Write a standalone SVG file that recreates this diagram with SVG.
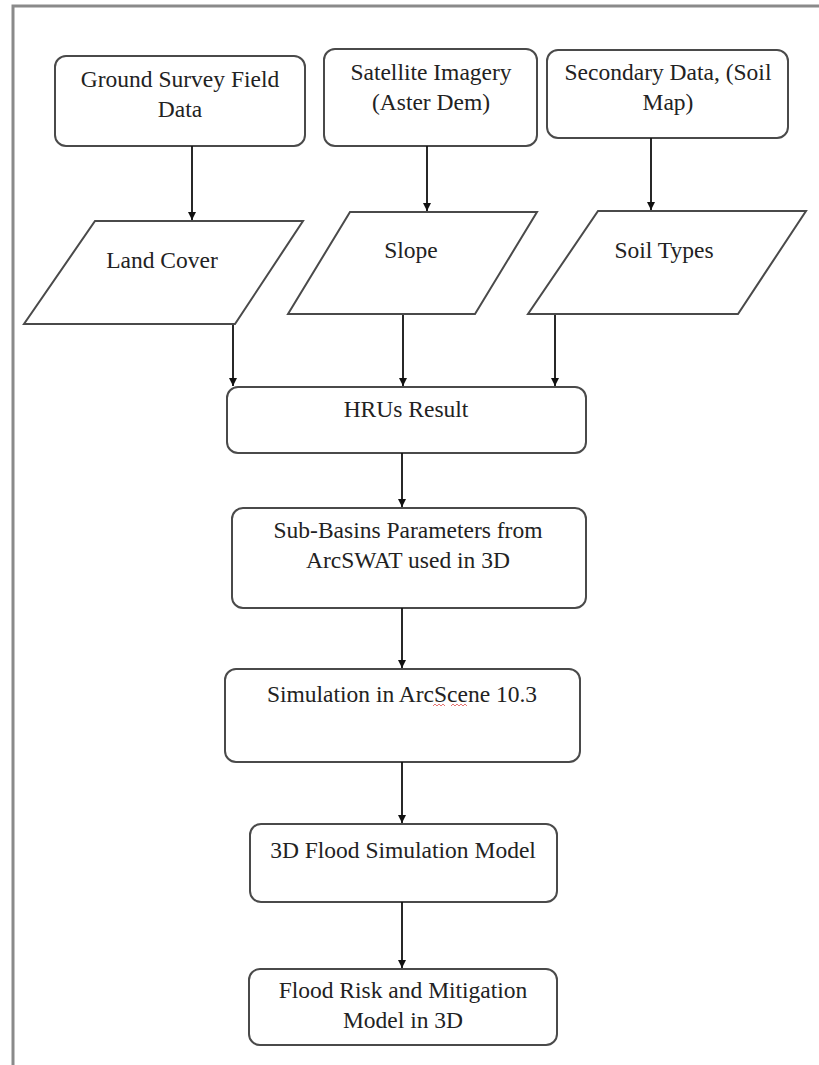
<svg xmlns="http://www.w3.org/2000/svg" width="819" height="1065" viewBox="0 0 819 1065">
<defs>
<marker id="ah" markerWidth="10" markerHeight="10" refX="8" refY="4" orient="auto" markerUnits="userSpaceOnUse">
<path d="M0,0 L8,4 L0,8 Z" fill="#111"/>
</marker>
<style>
.box{fill:#fff;stroke:#4a4a4a;stroke-width:2}
.t{font-family:"Liberation Serif","Times New Roman",serif;font-size:23.5px;fill:#222;text-anchor:middle}
.c{stroke:#111;stroke-width:1.8;fill:none;marker-end:url(#ah)}
.frame{stroke:#8a8a8a;stroke-width:3;fill:none}
</style>
</defs>
<rect width="819" height="1065" fill="#fff"/>
<path class="frame" d="M13,1065 L13,6 L819,6"/>
<g id="n-ground">
<rect class="box" x="55" y="56" width="250" height="90" rx="11"/>
<text class="t" x="180" y="87">Ground Survey Field</text>
<text class="t" x="180" y="117">Data</text>
</g>
<g id="n-satellite">
<rect class="box" x="324" y="49" width="213" height="97" rx="11"/>
<text class="t" x="431" y="80">Satellite Imagery</text>
<text class="t" x="431" y="110">(Aster Dem)</text>
</g>
<g id="n-secondary">
<rect class="box" x="547" y="50" width="241" height="88" rx="11"/>
<text class="t" x="668" y="80">Secondary Data, (Soil</text>
<text class="t" x="668" y="110">Map)</text>
</g>
<g id="n-landcover">
<polygon class="box" points="95,221 303,221 235,324 24,324"/>
<text class="t" x="162" y="268">Land Cover</text>
</g>
<g id="n-slope">
<polygon class="box" points="350,212 537,212 475,314 288,314"/>
<text class="t" x="411" y="258">Slope</text>
</g>
<g id="n-soil">
<polygon class="box" points="598,211 806,211 738,314 528,314"/>
<text class="t" x="664" y="258">Soil Types</text>
</g>
<g id="n-hrus">
<rect class="box" x="227" y="387" width="359" height="66" rx="11"/>
<text class="t" x="406" y="417">HRUs Result</text>
</g>
<g id="n-subbasins">
<rect class="box" x="232" y="508" width="354" height="100" rx="11"/>
<text class="t" x="408" y="538">Sub-Basins Parameters from</text>
<text class="t" x="408" y="568">ArcSWAT used in 3D</text>
</g>
<g id="n-simulation">
<rect class="box" x="225" y="669" width="355" height="93" rx="11"/>
<text class="t" x="402" y="702">Simulation in ArcScene 10.3</text>
<path d="M433,706 l2,-2 l2,2 l2,-2 l2,2 l2,-2 l2,2 M451,706 l2,-2 l2,2 l2,-2 l2,2 l2,-2 l2,2 l2,-2 l2,2" stroke="#e05050" stroke-width="0.8" fill="none"/>
</g>
<g id="n-flood3d">
<rect class="box" x="250" y="824" width="307" height="78" rx="11"/>
<text class="t" x="403" y="858">3D Flood Simulation Model</text>
</g>
<g id="n-floodrisk">
<rect class="box" x="249" y="969" width="308" height="76" rx="11"/>
<text class="t" x="403" y="998">Flood Risk and Mitigation</text>
<text class="t" x="403" y="1028">Model in 3D</text>
</g>
<g id="connectors">
<line class="c" x1="192" y1="146" x2="192" y2="220"/>
<line class="c" x1="427" y1="146" x2="427" y2="211"/>
<line class="c" x1="651" y1="138" x2="651" y2="210"/>
<line class="c" x1="233" y1="325" x2="233" y2="386"/>
<line class="c" x1="403" y1="315" x2="403" y2="386"/>
<line class="c" x1="555" y1="315" x2="555" y2="386"/>
<line class="c" x1="402" y1="453" x2="402" y2="507"/>
<line class="c" x1="402" y1="608" x2="402" y2="668"/>
<line class="c" x1="402" y1="762" x2="402" y2="823"/>
<line class="c" x1="402" y1="902" x2="402" y2="968"/>
</g>
</svg>
